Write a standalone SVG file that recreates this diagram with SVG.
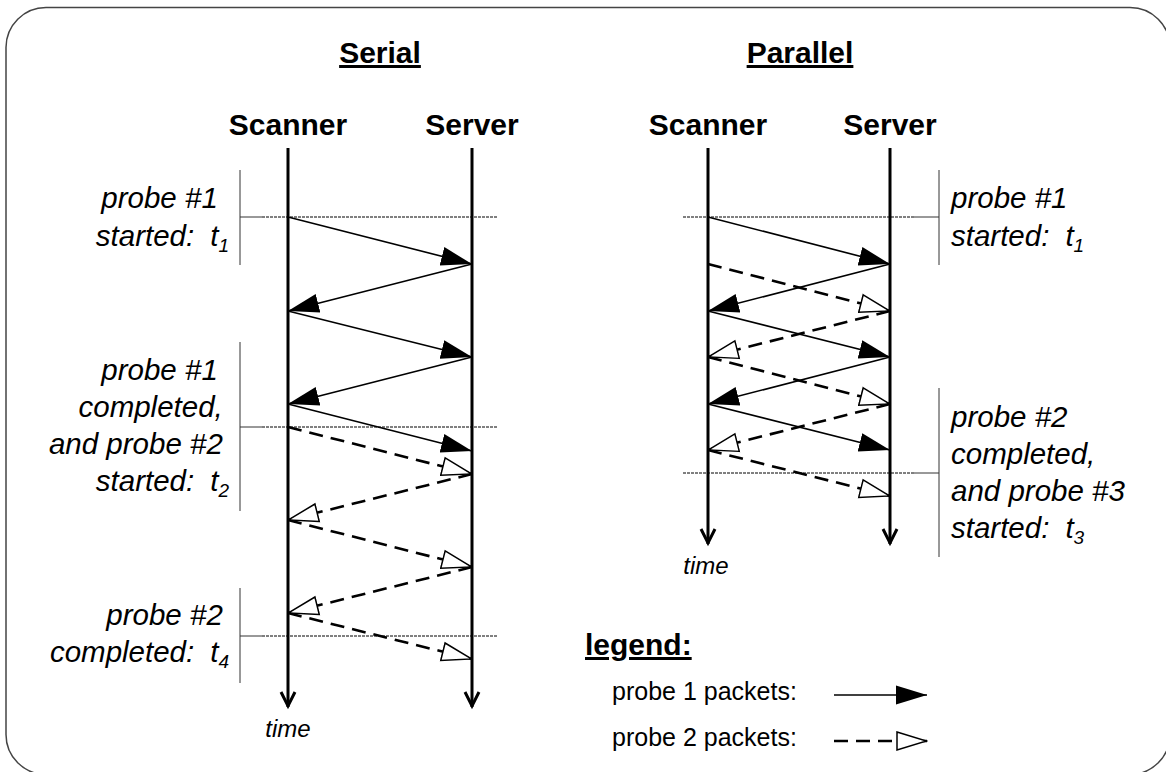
<svg xmlns="http://www.w3.org/2000/svg" width="1166" height="772" viewBox="0 0 1166 772">
  <defs>
    <style>
      .frame { fill: #fff; stroke: #444; stroke-width: 1.5; }
      .title { font-family: "Liberation Sans", Arial, sans-serif; font-weight: bold; font-size: 30px; text-decoration: underline; fill: #000; }
      .actor { font-family: "Liberation Sans", Arial, sans-serif; font-weight: bold; font-size: 30px; fill: #000; text-anchor: middle; }
      .note { font-family: "Liberation Sans", Arial, sans-serif; font-style: italic; font-size: 29.5px; fill: #000; }
      .note .sub { font-size: 19px; }
      .time { font-family: "Liberation Sans", Arial, sans-serif; font-style: italic; font-size: 24px; fill: #000; text-anchor: middle; }
      .legend { font-family: "Liberation Sans", Arial, sans-serif; font-size: 25px; fill: #000; }
      .lifeline { stroke: #000; stroke-width: 3; fill: none; }
      .tip { stroke: #000; stroke-width: 3; fill: none; stroke-linejoin: miter; }
      .p1 { stroke: #000; stroke-width: 1.6; fill: none; marker-end: url(#solidHead); }
      .p2 { stroke: #000; stroke-width: 2.6; fill: none; stroke-dasharray: 14 8; marker-end: url(#hollowHead); }
      .mark { stroke: #333; stroke-width: 1; fill: none; }
      .dot { stroke: #000; stroke-width: 1; fill: none; stroke-dasharray: 3 1; }
    </style>
    <marker id="solidHead" markerUnits="userSpaceOnUse" viewBox="0 0 32 22" markerWidth="32" markerHeight="22" refX="31" refY="11" orient="auto">
      <path d="M0,1.5 L31,11 L0,20.5 Z" fill="#000"/>
    </marker>
    <marker id="hollowHead" markerUnits="userSpaceOnUse" viewBox="0 0 32 22" markerWidth="32" markerHeight="22" refX="31" refY="11" orient="auto">
      <path d="M1,2 L30.5,11 L1,20 Z" fill="#fff" stroke="#000" stroke-width="1.5"/>
    </marker>
  </defs>

  <!-- outer rounded frame -->
  <rect class="frame" x="6" y="7.5" width="1164" height="767" rx="40" ry="40"/>

  <!-- section titles -->
  <text id="title-serial" class="title" x="380" y="63" text-anchor="middle">Serial</text>
  <text id="title-parallel" class="title" x="800" y="63" text-anchor="middle">Parallel</text>

  <!-- serial: participants -->
  <g id="serial-scanner">
    <text class="actor" x="288" y="135">Scanner</text>
    <line class="lifeline" x1="288" y1="148" x2="288" y2="707"/>
    <polyline class="tip" points="281,692 288,706 295,692"/>
  </g>
  <g id="serial-server">
    <text class="actor" x="472" y="135">Server</text>
    <line class="lifeline" x1="472" y1="148" x2="472" y2="707"/>
    <polyline class="tip" points="465,692 472,706 479,692"/>
  </g>
  <text id="serial-time" class="time" x="288" y="737">time</text>

  <!-- serial: time markers -->
  <g id="serial-t1">
    <line class="mark" x1="240" y1="170" x2="240" y2="265"/>
    <line class="mark" x1="240" y1="217" x2="262" y2="217"/>
    <line class="dot" x1="262" y1="217" x2="497" y2="217"/>
    <text class="note" text-anchor="end">
      <tspan x="226" y="208">probe #1</tspan>
      <tspan x="229" y="246">started:<tspan dx="16">t</tspan><tspan class="sub" dy="6">1</tspan></tspan>
    </text>
  </g>
  <g id="serial-t2">
    <line class="mark" x1="240" y1="342" x2="240" y2="511"/>
    <line class="mark" x1="240" y1="427" x2="262" y2="427"/>
    <line class="dot" x1="262" y1="427" x2="497" y2="427"/>
    <text class="note" text-anchor="end">
      <tspan x="226" y="380">probe #1</tspan>
      <tspan x="231" y="417">completed,</tspan>
      <tspan x="231" y="454">and probe #2</tspan>
      <tspan x="229" y="491">started:<tspan dx="16">t</tspan><tspan class="sub" dy="6">2</tspan></tspan>
    </text>
  </g>
  <g id="serial-t4">
    <line class="mark" x1="240" y1="588" x2="240" y2="683"/>
    <line class="mark" x1="240" y1="636" x2="262" y2="636"/>
    <line class="dot" x1="262" y1="636" x2="497" y2="636"/>
    <text class="note" text-anchor="end">
      <tspan x="231" y="625">probe #2</tspan>
      <tspan x="229" y="662">completed:<tspan dx="16">t</tspan><tspan class="sub" dy="6">4</tspan></tspan>
    </text>
  </g>

  <!-- parallel: participants -->
  <g id="parallel-scanner">
    <text class="actor" x="708" y="135">Scanner</text>
    <line class="lifeline" x1="708" y1="148" x2="708" y2="544"/>
    <polyline class="tip" points="701,529 708,543 715,529"/>
  </g>
  <g id="parallel-server">
    <text class="actor" x="890" y="135">Server</text>
    <line class="lifeline" x1="890" y1="148" x2="890" y2="544"/>
    <polyline class="tip" points="883,529 890,543 897,529"/>
  </g>
  <text id="parallel-time" class="time" x="706" y="574">time</text>

  <!-- parallel: time markers -->
  <g id="parallel-t1">
    <line class="mark" x1="939" y1="170" x2="939" y2="265"/>
    <line class="dot" x1="683" y1="217" x2="914" y2="217"/>
    <line class="mark" x1="914" y1="217" x2="939" y2="217"/>
    <text class="note">
      <tspan x="951" y="208">probe #1</tspan>
      <tspan x="951" y="246">started:<tspan dx="16">t</tspan><tspan class="sub" dy="6">1</tspan></tspan>
    </text>
  </g>
  <g id="parallel-t3">
    <line class="mark" x1="939" y1="388" x2="939" y2="557"/>
    <line class="dot" x1="683" y1="473" x2="914" y2="473"/>
    <line class="mark" x1="914" y1="473" x2="939" y2="473"/>
    <text class="note">
      <tspan x="951" y="427">probe #2</tspan>
      <tspan x="951" y="464">completed,</tspan>
      <tspan x="951" y="501">and probe #3</tspan>
      <tspan x="951" y="538">started:<tspan dx="16">t</tspan><tspan class="sub" dy="6">3</tspan></tspan>
    </text>
  </g>

  <!-- packets -->
  <g id="connectors">
    <!-- serial, probe 1 -->
    <line class="p1" x1="288" y1="217" x2="472" y2="264"/>
    <line class="p1" x1="472" y1="264" x2="288" y2="311"/>
    <line class="p1" x1="288" y1="311" x2="472" y2="357"/>
    <line class="p1" x1="472" y1="357" x2="288" y2="404"/>
    <line class="p1" x1="288" y1="404" x2="472" y2="451"/>
    <!-- serial, probe 2 -->
    <line class="p2" x1="288" y1="427" x2="472" y2="474"/>
    <line class="p2" x1="472" y1="474" x2="288" y2="520"/>
    <line class="p2" x1="288" y1="520" x2="472" y2="567"/>
    <line class="p2" x1="472" y1="567" x2="288" y2="613"/>
    <line class="p2" x1="288" y1="613" x2="472" y2="659"/>
    <!-- parallel, probe 1 -->
    <line class="p1" x1="708" y1="217" x2="890" y2="264"/>
    <line class="p1" x1="890" y1="264" x2="708" y2="311"/>
    <line class="p1" x1="708" y1="311" x2="890" y2="357"/>
    <line class="p1" x1="890" y1="357" x2="708" y2="404"/>
    <line class="p1" x1="708" y1="404" x2="890" y2="450"/>
    <!-- parallel, probe 2 -->
    <line class="p2" x1="708" y1="264" x2="890" y2="311"/>
    <line class="p2" x1="890" y1="311" x2="708" y2="357"/>
    <line class="p2" x1="708" y1="357" x2="890" y2="404"/>
    <line class="p2" x1="890" y1="404" x2="708" y2="450"/>
    <line class="p2" x1="708" y1="450" x2="890" y2="496"/>
  </g>

  <!-- legend -->
  <g id="legend">
    <text class="title" x="585" y="655">legend:</text>
    <text class="legend" x="612" y="700">probe 1 packets:</text>
    <text class="legend" x="612" y="746">probe 2 packets:</text>
    <line class="p1" x1="834" y1="695" x2="927" y2="695"/>
    <line class="p2" x1="834" y1="741" x2="927" y2="741"/>
  </g>
</svg>
